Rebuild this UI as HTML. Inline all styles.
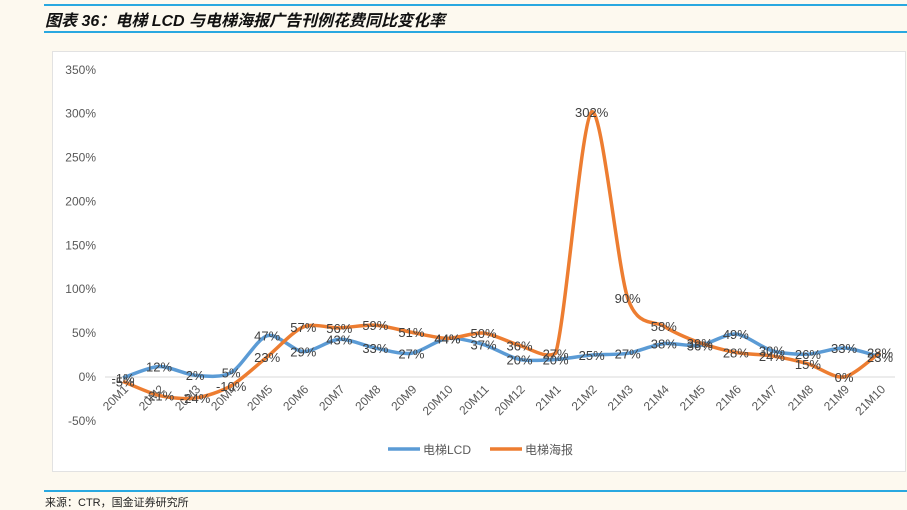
<!DOCTYPE html>
<html><head><meta charset="utf-8"><style>
body{margin:0;width:907px;height:508px;background:#fdf9ef;position:relative;overflow:hidden;font-family:"Liberation Sans","Noto Sans CJK SC",sans-serif}
.t{position:absolute}
</style></head><body>
<div class="t" style="left:44px;top:4px;width:863px;height:2px;background:#29a8e0"></div>
<div class="t" style="left:45px;top:7px;font-size:16px;font-weight:bold;font-style:italic;color:#111;font-family:'Liberation Sans','Noto Sans CJK SC',sans-serif">图表 36：电梯 LCD 与电梯海报广告刊例花费同比变化率</div>
<div class="t" style="left:44px;top:31px;width:863px;height:2px;background:#29a8e0"></div>
<div class="t" style="left:52px;top:51px;width:852px;height:419px;background:#fff;border:1px solid #e2e2e2"></div>
<svg class="t" style="left:0;top:0" width="907" height="508" id="svg"></svg>
<div class="t" style="left:44px;top:490px;width:863px;height:2px;background:#29a8e0"></div>
<div class="t" style="left:45px;top:494px;font-size:11px;color:#222">来源：CTR，国金证券研究所</div>
<script>
const categories=["20M1","20M2","20M3","20M4","20M5","20M6","20M7","20M8","20M9","20M10","20M11","20M12","21M1","21M2","21M3","21M4","21M5","21M6","21M7","21M8","21M9","21M10"];
const lcdValues=[-1,12,2,5,47,29,43,33,27,44,37,20,20,25,27,38,36,49,30,26,33,23];
const posterValues=[-5,-21,-24,-10,23,57,56,59,51,44,50,36,27,302,90,58,39,28,24,15,0,28];
const yTicks=[-50,0,50,100,150,200,250,300,350];
const svg=document.getElementById('svg');const NS='http://www.w3.org/2000/svg';
const X=i=>123+i*36.05;const Y=v=>377-v*0.8777;
function mk(t,a){const e=document.createElementNS(NS,t);for(const k in a)e.setAttribute(k,a[k]);svg.appendChild(e);return e;}
yTicks.forEach(v=>{const e=mk('text',{x:96,y:Y(v)+4,'text-anchor':'end','font-size':12,fill:'#595959'});e.textContent=v+'%';

});
const z=mk('line',{x1:105,x2:895,y1:Y(0),y2:Y(0),stroke:'#d9d9d9','stroke-width':1});


categories.forEach((c,i)=>{const e=mk('text',{x:X(i)+6,y:390,'text-anchor':'end','font-size':12,fill:'#595959',transform:`rotate(-45 ${X(i)+6} 390)`});e.textContent=c;

});
function path(vals){const p=vals.map((v,i)=>[X(i),Y(v)]);let d=`M${p[0][0]},${p[0][1]}`;
const cl=(y,a,b)=>Math.max(Math.min(a,b)-6,Math.min(Math.max(a,b)+6,y));
for(let i=0;i<p.length-1;i++){const p0=p[i-1]||p[i],p1=p[i],p2=p[i+1],p3=p[i+2]||p2;const t=0.14;
const c1y=cl(p1[1]+(p2[1]-p0[1])*t,p1[1],p2[1]),c2y=cl(p2[1]-(p3[1]-p1[1])*t,p1[1],p2[1]);
d+=` C${p1[0]+(p2[0]-p0[0])*t},${c1y} ${p2[0]-(p3[0]-p1[0])*t},${c2y} ${p2[0]},${p2[1]}`;}return d;}
const l1=mk('path',{d:path(lcdValues),fill:'none',stroke:'#5b9bd5','stroke-width':3.5});


const l2=mk('path',{d:path(posterValues),fill:'none',stroke:'#ed7d31','stroke-width':3.5});


[lcdValues,posterValues].forEach(vals=>vals.forEach((v,i)=>{const e=mk('text',{x:X(i),y:Y(v)+5,'text-anchor':'middle','font-size':13,fill:'#404040'});e.textContent=v+'%';

}));
const lg=[['#5b9bd5','电梯LCD',388],['#ed7d31','电梯海报',490]];
lg.forEach(([c,t,x])=>{const l=mk('line',{x1:x,x2:x+32,y1:449,y2:449,stroke:c,'stroke-width':3.5});


const e=mk('text',{x:x+35,y:454,'font-size':12,fill:'#595959'});e.textContent=t;

});
</script>
</body></html>
